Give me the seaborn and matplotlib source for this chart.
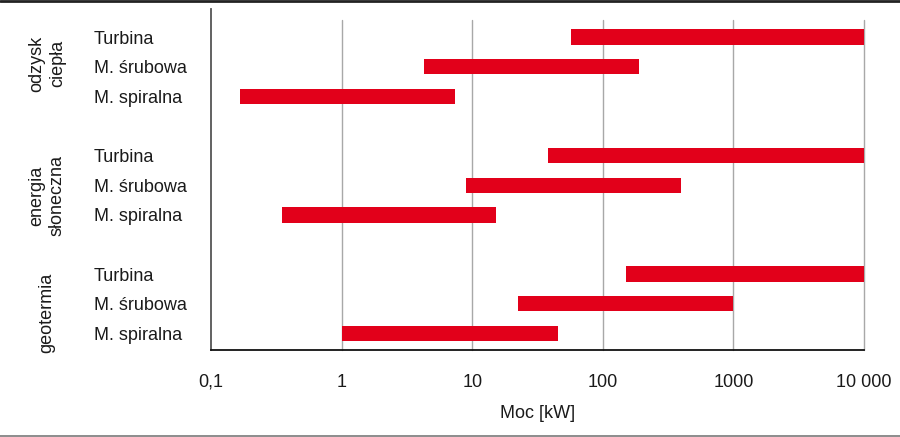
import matplotlib
matplotlib.use("Agg")
import matplotlib.pyplot as plt
import matplotlib.transforms as mtransforms
from matplotlib.lines import Line2D
import seaborn as sns
import numpy as np

# ---- data ----
groups = ["odzysk\nciepła", "energia\nsłoneczna", "geotermia"]
machines = ["Turbina", "M. śrubowa", "M. spiralna"]
# power ranges [kW] per group, in order of machines
odzysk_start = [57, 4.3, 0.167]
odzysk_end = [10000, 190, 7.4]
slonce_start = [38, 8.9, 0.35]
slonce_end = [10000, 400, 15.3]
geo_start = [150, 22.5, 1.0]
geo_end = [10000, 1000, 45]
xtick_values = [0.1, 1, 10, 100, 1000, 10000]
xtick_labels = ["0,1", "1", "10", "100", "1000", "10 000"]
xlabel = "Moc [kW]"

starts = [odzysk_start, slonce_start, geo_start]
ends = [odzysk_end, slonce_end, geo_end]

sns.set_theme(style="white")
plt.rcParams["font.family"] = ["Liberation Sans Narrow", "Liberation Sans", "DejaVu Sans"]

RED = "#E2001A"
TXT = "#1a1a1a"
fig = plt.figure(figsize=(9, 4.37), dpi=100)
ax = fig.add_axes([211 / 900, 1 - 350 / 437, (864 - 211) / 900, (350 - 9.5) / 437])

ypos, ylabels = [], []
for gi, (s_list, e_list) in enumerate(zip(starts, ends)):
    for mi, (s, e) in enumerate(zip(s_list, e_list)):
        y = gi * 4 + mi
        ypos.append(y)
        ylabels.append(machines[mi])
        ax.barh(y, e - s, left=s, height=0.52, color=RED, zorder=3, linewidth=0)

ax.set_xscale("log")
ax.set_xlim(0.1, 10000)
ax.set_ylim(10.56, -0.93)

# grid lines (start slightly below the top of the left spine)
for xv in xtick_values[1:]:
    ax.axvline(xv, ymin=0, ymax=(350 - 20) / (350 - 9.5), color="#a8a8a8", lw=1.0,
               zorder=1, clip_on=False)

ax.set_xticks(xtick_values)
ax.set_xticklabels(xtick_labels, fontsize=13, color=TXT)
ax.xaxis.set_minor_locator(matplotlib.ticker.NullLocator())
ax.tick_params(axis="x", length=0, pad=17)
ax.set_xlabel(xlabel, fontsize=13, color=TXT, labelpad=10)

ax.set_yticks(ypos)
ax.set_yticklabels(ylabels, fontsize=13, color=TXT, ha="left")
ax.tick_params(axis="y", length=0, pad=(211 - 94) * 0.72)

for sp in ["top", "right"]:
    ax.spines[sp].set_visible(False)
ax.spines["left"].set_color("#555555")
ax.spines["left"].set_linewidth(1.3)
ax.spines["bottom"].set_color("#111111")
ax.spines["bottom"].set_linewidth(1.3)

# group labels
trans = mtransforms.blended_transform_factory(fig.transFigure, ax.transData)
label_nudge = [-0.1, 0.35, 0.3]
for gi, g in enumerate(groups):
    yc = gi * 4 + 1 + label_nudge[gi]
    ax.text(47 / 900, yc, g, transform=trans, rotation=90, ha="center", va="center",
            fontsize=13, color=TXT, linespacing=1.3, multialignment="center")

# decorative horizontal rules top and bottom
fig.add_artist(Line2D([0, 1], [1 - 0.8 / 437, 1 - 0.8 / 437], transform=fig.transFigure,
                      color="#222222", lw=2.0))
fig.add_artist(Line2D([0, 1], [1 - 435.5 / 437, 1 - 435.5 / 437], transform=fig.transFigure,
                      color="#8c8c8c", lw=1.4))

fig.savefig("out.png", dpi=100)
